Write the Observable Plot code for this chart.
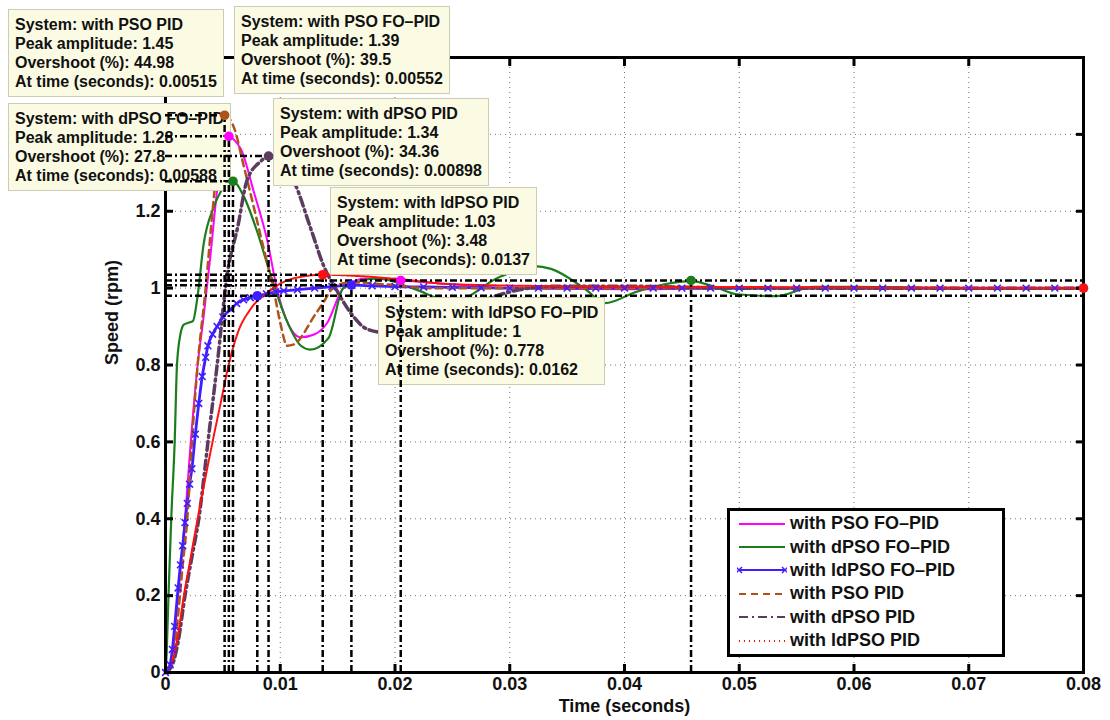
<!DOCTYPE html>
<html><head><meta charset="utf-8">
<script src="https://cdn.jsdelivr.net/npm/d3@7"></script>
<script src="https://cdn.jsdelivr.net/npm/@observablehq/plot@0.6"></script>
<style>
html,body{margin:0;padding:0;background:#fff;}
#wrap{position:relative;width:1110px;height:720px;font-family:"Liberation Sans",Arial,Helvetica,sans-serif;}
#wrap > svg{position:absolute;left:0;top:0;}
.tip{position:absolute;background:#fbfbe4;border:1px solid #cdcdb6;padding:5px 6px;font-weight:bold;font-size:16px;line-height:19px;color:#111;white-space:nowrap;}
#legend{position:absolute;left:727px;top:508px;width:272px;height:142px;border:3px solid #000;background:#fff;padding-top:1px;box-sizing:content-box;}
.lrow{height:23.4px;display:flex;align-items:center;font-weight:bold;font-size:18px;color:#111;white-space:nowrap;}
.lrow svg{margin-left:7px;margin-right:3px;flex:none;}
</style></head>
<body><div id="wrap"></div>
<script>
// ---------- data ----------
const xTicks = [0, 0.01, 0.02, 0.03, 0.04, 0.05, 0.06, 0.07, 0.08];
const yTicks = [0, 0.2, 0.4, 0.6, 0.8, 1, 1.2, 1.4, 1.6];
const yTickLabels = [0, 0.2, 0.4, 0.6, 0.8, 1, 1.2]; // 1.4 and 1.6 sit under the data-tip boxes
const seriesNames = ["with PSO FO–PID", "with dPSO FO–PID", "with ldPSO FO–PID", "with PSO PID", "with dPSO PID", "with ldPSO PID"];

// with PSO FO-PID
const tPsoFo = [0, 0.0003, 0.0006, 0.0009, 0.0011, 0.0014, 0.0017, 0.0022, 0.0028, 0.0033, 0.0039, 0.0046, 0.0050, 0.00552, 0.0060, 0.0066, 0.0077, 0.0089, 0.0097, 0.0105, 0.0118, 0.0130, 0.0141, 0.0155, 0.0175, 0.0205, 0.025, 0.030, 0.040, 0.050, 0.065, 0.080];
const yPsoFo = [0, 0.01, 0.05, 0.13, 0.2, 0.3, 0.4, 0.6, 0.8, 0.92, 1.08, 1.28, 1.35, 1.395, 1.385, 1.36, 1.25, 1.12, 1.0, 0.92, 0.872, 0.88, 0.91, 1.0, 1.025, 1.02, 1.01, 1.0, 0.997, 1.0, 1.0, 1.0];
// with dPSO FO-PID
const tDpsoFo = [0, 0.0001, 0.00026, 0.0005, 0.0008, 0.0010, 0.0013, 0.0016, 0.0020, 0.0024, 0.0028, 0.0033, 0.0042, 0.00588, 0.0068, 0.0080, 0.0091, 0.0105, 0.0118, 0.0126, 0.0142, 0.0155, 0.0185, 0.0215, 0.0250, 0.0292, 0.0321, 0.0336, 0.0366, 0.0383, 0.0410, 0.0435, 0.0458, 0.0477, 0.0498, 0.0532, 0.0565, 0.0600, 0.0700, 0.0800];
const yDpsoFo = [0, 0.05, 0.2, 0.4, 0.6, 0.8, 0.88, 0.905, 0.91, 0.915, 0.98, 1.11, 1.21, 1.278, 1.24, 1.146, 1.04, 0.92, 0.85, 0.84, 0.87, 1.0, 1.025, 1.0, 0.965, 1.03, 1.057, 1.05, 0.997, 0.961, 0.99, 1.01, 1.018, 1.005, 0.984, 0.979, 1.003, 1.003, 1.0, 1.0];
// with ldPSO FO-PID
const tLdpsoFo = [0, 0.0002, 0.0004, 0.0006, 0.0008, 0.0011, 0.0013, 0.0015, 0.0017, 0.0019, 0.0021, 0.0023, 0.0026, 0.0029, 0.0032, 0.0035, 0.0037, 0.0041, 0.0045, 0.0050, 0.0057, 0.0062, 0.0068, 0.0074, 0.0080, 0.0088, 0.0096, 0.0103, 0.0115, 0.0130, 0.0145, 0.0162, 0.0180, 0.0200, 0.0225, 0.0250, 0.0275, 0.0300, 0.0325, 0.0350, 0.0375, 0.0400, 0.0425, 0.0450, 0.0475, 0.0500, 0.0525, 0.0550, 0.0575, 0.0600, 0.0625, 0.0650, 0.0675, 0.0700, 0.0725, 0.0750, 0.0775, 0.0800];
const yLdpsoFo = [0, 0.005, 0.02, 0.06, 0.12, 0.22, 0.28, 0.33, 0.39, 0.44, 0.49, 0.53, 0.62, 0.70, 0.77, 0.82, 0.85, 0.88, 0.90, 0.925, 0.945, 0.96, 0.97, 0.975, 0.98, 0.985, 0.99, 0.993, 0.996, 1.0, 1.004, 1.0078, 1.006, 1.004, 1.003, 1.002, 1.001, 1.0, 1.0, 1.0, 1.0, 1.0, 1.0, 1.0, 1.0, 1.0, 1.0, 1.0, 1.0, 1.0, 1.0, 1.0, 1.0, 1.0, 1.0, 1.0, 1.0, 1.0];
// with PSO PID
const tPso = [0, 0.0004, 0.0008, 0.0011, 0.0015, 0.0019, 0.0023, 0.0028, 0.0035, 0.0041, 0.0046, 0.00515, 0.0060, 0.0068, 0.0077, 0.0085, 0.0094, 0.0100, 0.0106, 0.0113, 0.0120, 0.0128, 0.0137, 0.0146, 0.0160, 0.0190, 0.0230, 0.030, 0.040, 0.050, 0.065, 0.080];
const yPso = [0, 0.01, 0.06, 0.15, 0.28, 0.4, 0.6, 0.8, 1.0, 1.2, 1.35, 1.45, 1.415, 1.32, 1.21, 1.11, 1.0, 0.91, 0.85, 0.855, 0.88, 0.92, 0.96, 1.0, 1.015, 1.01, 1.0, 1.0, 1.0, 1.0, 1.0, 1.0];
// with dPSO PID
const tDpso = [0, 0.0006, 0.0011, 0.0017, 0.0023, 0.0029, 0.0037, 0.0045, 0.0054, 0.0063, 0.0071, 0.0083, 0.00898, 0.0100, 0.0112, 0.0126, 0.0138, 0.0150, 0.0161, 0.0176, 0.0190, 0.0210, 0.0240, 0.0270, 0.0300, 0.0340, 0.040, 0.050, 0.065, 0.080];
const yDpso = [0, 0.02, 0.08, 0.2, 0.3, 0.4, 0.6, 0.8, 1.04, 1.16, 1.28, 1.33, 1.344, 1.325, 1.277, 1.16, 1.057, 0.99, 0.937, 0.893, 0.885, 0.89, 0.92, 0.96, 0.99, 1.005, 1.005, 1.0, 1.0, 1.0];
// with ldPSO PID
const tLdpso = [0, 0.0005, 0.0011, 0.0016, 0.0022, 0.0028, 0.0035, 0.0041, 0.0048, 0.0055, 0.0063, 0.0074, 0.0089, 0.0109, 0.0137, 0.0176, 0.0205, 0.025, 0.035, 0.050, 0.065, 0.080];
const yLdpso = [0, 0.02, 0.1, 0.2, 0.3, 0.4, 0.51, 0.6, 0.7, 0.8, 0.884, 0.945, 0.989, 1.023, 1.0348, 1.03, 1.023, 1.01, 1.005, 1.003, 1.001, 1.0];

// data tips (peak response)
const peakSystems = ["with PSO PID", "with PSO FO–PID", "with dPSO FO–PID", "with dPSO PID", "with ldPSO PID", "with ldPSO FO–PID"];
const peakAmplitude = ["1.45", "1.39", "1.28", "1.34", "1.03", "1"];
const peakOvershoot = [44.98, 39.5, 27.8, 34.36, 3.48, 0.778];
const peakTime = [0.00515, 0.00552, 0.00588, 0.00898, 0.0137, 0.0162];
// settling-time markers
const settleSystems = ["with ldPSO FO–PID", "with PSO FO–PID", "with dPSO FO–PID", "with ldPSO PID"];
const settleTime = [0.0080, 0.0205, 0.0458, 0.0800];
const settleLevel = [0.98, 1.02, 1.02, 1.0];
const bandLevels = [0.98, 1.02];

// ---------- styles / layout ----------
const seriesStyles = [
  {color: "#ff00ff", width: 2, dash: null},
  {color: "#1b7d1b", width: 2.2, dash: null},
  {color: "#3f1fff", width: 2.8, dash: null, marker: true},
  {color: "#b0521c", width: 2.5, dash: "7,5"},
  {color: "#5c3c5e", width: 3.5, dash: "9,4,2,4"},
  {color: "#ff1010", width: 2, dash: "2,1"}
];
const tipLayout = [
  {left: 8, top: 9}, {left: 234, top: 6}, {left: 8, top: 103},
  {left: 273, top: 98}, {left: 330, top: 187}, {left: 378, top: 297}
];
const frameOpts = {
  width: 1110, height: 720,
  marginLeft: 165, marginRight: 27, marginTop: 57, marginBottom: 48
};

const seriesT = [tPsoFo, tDpsoFo, tLdpsoFo, tPso, tDpso, tLdpso];
const seriesY = [yPsoFo, yDpsoFo, yLdpsoFo, yPso, yDpso, yLdpso];
const colorOf = name => seriesStyles[seriesNames.indexOf(name)].color;

const rowsOf = i => seriesT[i].map((t, j) => ({t, y: seriesY[i][j]}));
const peakRows = peakSystems.map((s, i) => ({name: s, t: peakTime[i], y: 1 + peakOvershoot[i] / 100, color: colorOf(s)}));
const settleRows = settleSystems.map((s, i) => ({name: s, t: settleTime[i], y: settleLevel[i], color: colorOf(s)}));

const fmt = d => String(+d.toFixed(3));
const tipLine = {stroke: "#000", strokeWidth: 2.5, strokeDasharray: "7,3,2,3"};
const boldText = {fontSize: 18, fontWeight: "bold", fill: "#111"};
const fontFamily = "'Liberation Sans', Arial, Helvetica, sans-serif";

const lineMarks = seriesNames.map((n, i) => Plot.line(rowsOf(i), {
  x: "t", y: "y", stroke: seriesStyles[i].color, strokeWidth: seriesStyles[i].width,
  strokeDasharray: seriesStyles[i].dash, curve: "monotone-x"
}));

// base layer: grid, frame, axes, response curves
const chart = Plot.plot({
  ...frameOpts,
  x: {domain: [0, 0.08]},
  y: {domain: [0, 1.6]},
  style: {fontFamily, background: "#fff", overflow: "visible"},
  marks: [
    Plot.gridX(xTicks.slice(1, -1), {stroke: "#000", strokeOpacity: 0.55, strokeDasharray: "1,4", strokeWidth: 1}),
    Plot.gridY(yTicks.slice(1, -1), {stroke: "#000", strokeOpacity: 0.55, strokeDasharray: "1,4", strokeWidth: 1}),
    ...lineMarks,
    Plot.dot(rowsOf(2), {x: "t", y: "y", symbol: "times", r: 3.2, stroke: seriesStyles[2].color, strokeWidth: 1.6}),
    Plot.frame({stroke: "#000", strokeWidth: 3}),
    Plot.axisX(xTicks, {anchor: "bottom", tickSize: 0, tickPadding: 5, tickFormat: fmt, label: null, ...boldText}),
    Plot.axisX(xTicks, {anchor: "bottom", tickSize: -8, strokeWidth: 3, fill: "none", label: null}),
    Plot.axisX(xTicks, {anchor: "top", tickSize: -8, strokeWidth: 3, fill: "none", label: null}),
    Plot.axisY(yTickLabels, {anchor: "left", tickSize: 0, tickPadding: 5, tickFormat: fmt, label: null, ...boldText}),
    Plot.axisY(yTicks, {anchor: "left", tickSize: -8, strokeWidth: 3, fill: "none", label: null}),
    Plot.axisY(yTicks, {anchor: "right", tickSize: -8, strokeWidth: 3, fill: "none", label: null}),
    Plot.text(["Time (seconds)"], {text: d => d, frameAnchor: "bottom", dy: 39, ...boldText}),
    Plot.text(["Speed (rpm)"], {text: d => d, frameAnchor: "left", dx: -53, rotate: -90, ...boldText})
  ]
});

// top layer: characteristic lines and markers of the data tips (drawn over the boxes)
const overlay = Plot.plot({
  ...frameOpts,
  x: {domain: [0, 0.08], axis: null},
  y: {domain: [0, 1.6], axis: null},
  color: {type: "identity"},
  style: {background: "transparent", overflow: "visible", pointerEvents: "none"},
  marks: [
    Plot.ruleY(bandLevels, {y: d => d, ...tipLine}),
    Plot.ruleX(peakRows, {x: "t", y1: 0, y2: "y", ...tipLine}),
    Plot.ruleY(peakRows, {y: "y", x1: 0, x2: "t", ...tipLine}),
    Plot.ruleX(settleRows, {x: "t", y1: 0, y2: "y", ...tipLine}),
    Plot.dot(peakRows, {x: "t", y: "y", r: 4.8, fill: "color"}),
    Plot.dot(settleRows, {x: "t", y: "y", r: 4.8, fill: "color"})
  ]
});

const wrap = document.getElementById("wrap");
wrap.appendChild(chart);

// data-tip boxes
peakSystems.forEach((s, i) => {
  const div = document.createElement("div");
  div.className = "tip";
  div.style.left = tipLayout[i].left + "px";
  div.style.top = tipLayout[i].top + "px";
  [`System: ${s}`, `Peak amplitude: ${peakAmplitude[i]}`, `Overshoot (%): ${peakOvershoot[i]}`, `At time (seconds): ${peakTime[i]}`]
    .forEach(t => { const l = document.createElement("div"); l.textContent = t; div.appendChild(l); });
  wrap.appendChild(div);
});

wrap.appendChild(overlay);

// legend
const legend = document.createElement("div");
legend.id = "legend";
const NS = "http://www.w3.org/2000/svg";
seriesNames.forEach((n, i) => {
  const st = seriesStyles[i];
  const row = document.createElement("div");
  row.className = "lrow";
  const svg = document.createElementNS(NS, "svg");
  svg.setAttribute("width", 50); svg.setAttribute("height", 16);
  const ln = document.createElementNS(NS, "line");
  ln.setAttribute("x1", 2); ln.setAttribute("x2", 48); ln.setAttribute("y1", 8); ln.setAttribute("y2", 8);
  ln.setAttribute("stroke", st.color);
  ln.setAttribute("stroke-width", Math.min(st.width, 2));
  if (st.dash) ln.setAttribute("stroke-dasharray", st.dash);
  if (i === 5) ln.setAttribute("stroke-dasharray", "1,4");
  svg.appendChild(ln);
  if (st.marker) {
    [2, 48].forEach(x => {
      const p = document.createElementNS(NS, "path");
      p.setAttribute("d", `M${x - 3},5L${x + 3},11M${x - 3},11L${x + 3},5`);
      p.setAttribute("stroke", st.color); p.setAttribute("stroke-width", 1.5);
      svg.appendChild(p);
    });
  }
  row.appendChild(svg);
  const tx = document.createElement("span");
  tx.textContent = n;
  row.appendChild(tx);
  legend.appendChild(row);
});
wrap.appendChild(legend);
</script>
</body></html>
